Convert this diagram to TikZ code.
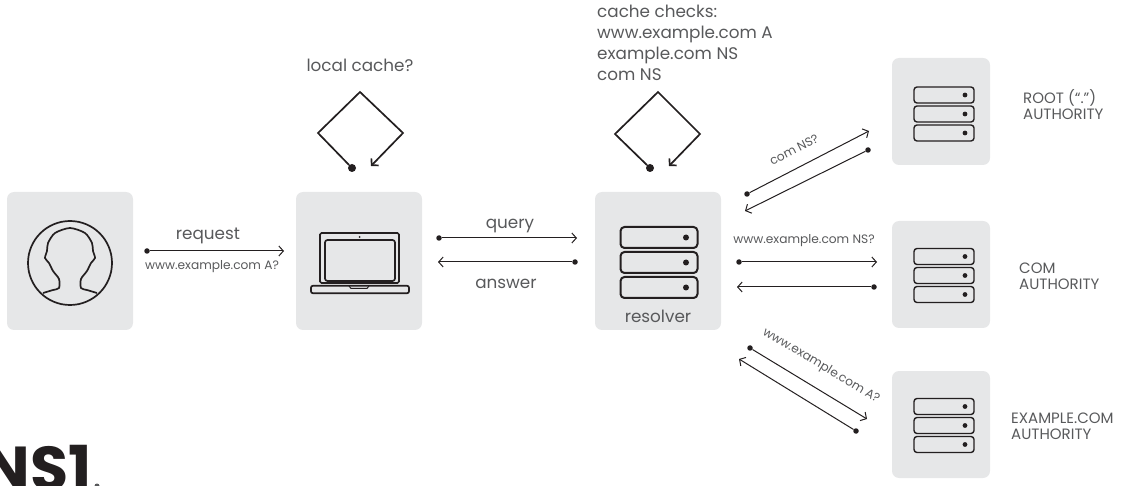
\documentclass[tikz,border=0pt]{standalone}
\usepackage{fontspec}
\setmainfont{Poppins}
\usetikzlibrary{arrows.meta}

\definecolor{tilegray}{HTML}{E6E7E8}
\definecolor{inkdark}{HTML}{231F20}
\definecolor{labelgray}{HTML}{58595B}

\tikzset{
	>={Straight Barb[length=4.5pt,width=10pt]},
	tile/.style={fill=tilegray, rounded corners=7pt, inner sep=0pt, minimum width=126pt, minimum height=138pt},
	smalltile/.style={tile, minimum width=98pt, minimum height=107pt},
	wire/.style={draw=inkdark, line width=1pt},
	thick line/.style={draw=inkdark, line width=1.7pt},
	dotnode/.style={circle, fill=inkdark, inner sep=0pt, minimum size=5.5pt},
	bigdot/.style={circle, fill=inkdark, inner sep=0pt, minimum size=8pt},
	bigrow/.style={thick line, line width=2pt, rounded corners=4pt, inner sep=0pt, minimum width=77pt, minimum height=21pt},
	smallrow/.style={thick line, line width=1.4pt, rounded corners=3pt, inner sep=0pt, minimum width=60pt, minimum height=16pt},
	caption/.style={text=labelgray, inner sep=0pt, font=\fontsize{16.8}{20.8}\selectfont, align=left},
	small caption/.style={text=labelgray, inner sep=0pt, font=\fontsize{12.2}{14}\selectfont},
	authority/.style={text=labelgray, inner sep=0pt, anchor=west, font=\fontsize{15}{16}\selectfont, align=left}
}

% three stacked servers: name, x, y of the middle one, row style, spacing, dot offset
\newcommand{\serverstack}[7]{
	\foreach \row/\shifty in {a/-#5, b/0, c/#5} {
		\node[#4] (#1_\row) at (#2, #3+\shifty) {};
		\fill[inkdark] (#2+#6, #3+\shifty) circle (#7);
	}
}

\begin{document}
\begin{tikzpicture}[x=1pt, y=-1pt]
	\useasboundingbox (0, 0) rectangle (1122, 486);

	% tiles
	\node[tile] (user) at (70, 261) {};
	\node[tile] (laptop) at (359, 261) {};
	\node[tile] (resolver) at (658, 261) {};
	\node[smalltile] (root) at (941, 111.5) {};
	\node[smalltile] (com) at (941, 274.5) {};
	\node[smalltile] (example) at (941, 424.5) {};

	% user icon
	\node[circle, thick line, inner sep=0pt, minimum size=84pt] (user_icon) at (70, 263) {};
	\draw[thick line, line join=round] plot[smooth, tension=0.45] coordinates {
		(43, 293) (53, 290) (59, 288) (59, 279) (53, 271) (49, 263) (45, 258) (47, 251)
		(48, 243) (55, 233) (70, 228) (85, 233) (92, 243) (93, 251) (95, 258) (91, 263) (87, 271)
		(81, 279) (81, 288) (87, 290) (97, 293)};

	% laptop icon
	\node[thick line, rounded corners=1.5pt, inner sep=0pt, minimum width=79pt, minimum height=50pt] (lid) at (359.5, 258) {};
	\node[thick line, fill=tilegray, rounded corners=2.5pt, inner sep=0pt, minimum width=70pt, minimum height=41pt] (screen) at (360, 260.5) {};
	\node[thick line, fill=tilegray, rounded corners=2pt, inner sep=0pt, minimum width=98pt, minimum height=7.5pt] (base) at (360, 289.5) {};
	\node[circle, fill=inkdark, inner sep=0pt, minimum size=2pt] (camera) at (359.5, 237) {};
	\coordinate (notch_a) at (349, 286);
	\coordinate (notch_b) at (369, 286);
	\draw[inkdark, line width=1pt] (notch_a) -- ++(2, 2.5) -- ++(16, 0) -- (notch_b);

	% servers
	\serverstack{res}{659}{262.5}{bigrow}{25}{27}{3pt}
	\serverstack{rt}{944}{114}{smallrow}{19}{21}{2.4pt}
	\serverstack{cm}{944}{275.5}{smallrow}{19}{21}{2.4pt}
	\serverstack{ex}{944}{425.5}{smallrow}{19}{21}{2.4pt}

	% loops
	\node[bigdot] (loop_l) at (352, 168) {};
	\coordinate (loop_l_end) at (371, 166);
	\path [thick line, ->, line join=miter] (loop_l) -- (318, 133) -- (360, 92) -- (403, 133) -- (loop_l_end);
	\node[bigdot] (loop_r) at (650, 168) {};
	\coordinate (loop_r_end) at (669, 166);
	\path [thick line, ->, line join=miter] (loop_r) -- (615, 134) -- (658, 92) -- (700, 134) -- (loop_r_end);

	% arrows
	\node[dotnode] (req_a) at (147, 251) {};
	\coordinate (req_b) at (284, 251);
	\path [wire, ->] (req_a) -- (req_b);
	\node[dotnode] (qry_a) at (439, 238) {};
	\coordinate (qry_b) at (577, 238);
	\path [wire, ->] (qry_a) -- (qry_b);
	\node[dotnode] (ans_a) at (575, 262) {};
	\coordinate (ans_b) at (438, 262);
	\path [wire, ->] (ans_a) -- (ans_b);
	\node[dotnode] (nsq_a) at (739, 262) {};
	\coordinate (nsq_b) at (877, 262);
	\path [wire, ->] (nsq_a) -- (nsq_b);
	\node[dotnode] (nsr_a) at (874, 287) {};
	\coordinate (nsr_b) at (737, 287);
	\path [wire, ->] (nsr_a) -- (nsr_b);
	\node[dotnode] (rtq_a) at (747, 194) {};
	\coordinate (rtq_b) at (869, 131);
	\path [wire, ->] (rtq_a) -- (rtq_b);
	\node[dotnode] (rtr_a) at (868, 150) {};
	\coordinate (rtr_b) at (745, 211);
	\path [wire, ->] (rtr_a) -- (rtr_b);
	\node[dotnode] (exq_a) at (750, 348) {};
	\coordinate (exq_b) at (867, 419);
	\path [wire, ->] (exq_a) -- (exq_b);
	\node[dotnode] (exr_a) at (856, 431) {};
	\coordinate (exr_b) at (739, 359);
	\path [wire, ->] (exr_a) -- (exr_b);

	% labels
	\node[caption] (local_txt) at (360, 65) {local cache?};
	\node[caption, anchor=north west] (checks_txt) at (597, 5) {cache checks:\\www.example.com A\\example.com NS\\com NS};
	\node[caption] (request_txt) at (208, 236) {request};
	\node[small caption] (req_txt) at (212, 267) {www.example.com A?};
	\node[caption] (query_txt) at (510, 226) {query};
	\node[caption] (answer_txt) at (506, 284) {answer};
	\node[caption] (resolver_txt) at (658, 316) {resolver};
	\node[small caption] (nsq_txt) at (804, 241) {www.example.com NS?};
	\node[small caption, rotate=27] (rtq_txt) at (794, 150) {com NS?};
	\node[small caption, rotate=-31] (exq_txt) at (821, 366) {www.example.com A?};
	\node[authority] (root_txt) at (1023, 105) {ROOT (“.”)\\AUTHORITY};
	\node[authority] (com_txt) at (1019, 276) {COM\\AUTHORITY};
	\node[authority] (example_txt) at (1011, 426) {EXAMPLE.COM\\AUTHORITY};

	% logo, cut off by the page
	\node[anchor=base east, inner sep=0pt, text=inkdark, font=\fontsize{62}{62}\selectfont\bfseries] (logo) at (92, 490) {NS1};
	\node[circle, fill=labelgray, inner sep=0pt, minimum size=5pt] (logo_mark) at (97, 486) {};
\end{tikzpicture}
\end{document}
